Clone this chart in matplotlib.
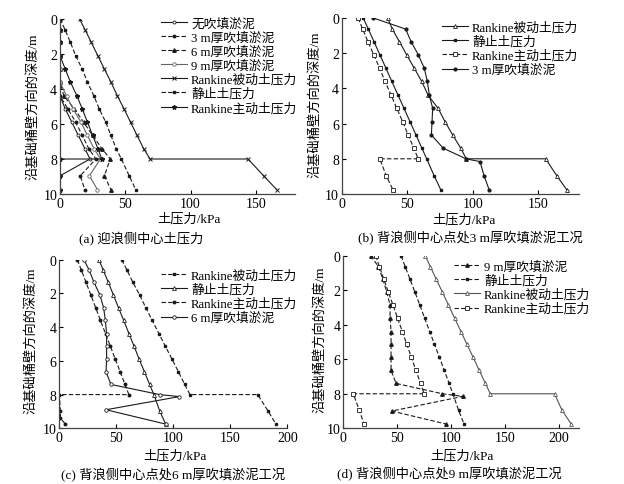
import matplotlib
matplotlib.use('Agg')
import matplotlib.pyplot as plt

plt.rcParams['font.family'] = ['Liberation Serif', 'Noto Sans CJK SC']
plt.rcParams['font.size'] = 9.5

# depths (m) of the sampling points
depth_up = [0, 0.63, 1.34, 2.1, 2.86, 3.6, 4.4, 5.13, 5.89, 6.65, 7.4, 8.0]
depth_low = [8.96, 9.75]
depth_layer = depth_up + [8.0, 8.96, 9.75]

# (a) 迎浪侧中心
a_none = [0, 0, 0, 0, 0, 0, 0, 4, 9, 14, 19, 23, 0, 0]
a_3m = [0, 0, 0, 0, 0, 0, 0, 6, 12, 17, 22, 27.5, 15.5, 19]
a_6m = [0, 0, 0, 0, 0, 0, 3, 11, 18, 25, 32, 38.5, 34, 39]
a_9m = [0, 0, 0, 0, 0, 0, 5, 10, 16, 21, 26, 31, 22.5, 28.7]
a_passive = [15, 19.3, 24, 29, 34, 39, 44, 49, 54, 59, 64, 69, 144, 156, 166]
a_static = [0, 4, 8, 12, 17, 21, 26, 30, 35, 39, 43, 47, 53, 58]
a_active = [0, 0, 0, 0, 4, 8, 13, 17, 21, 25, 29, 32, 0, 0, 0]

# (b) 背浪侧 3 m
b_passive = [35, 38.6, 44, 49.6, 55.4, 61, 66, 73.5, 78.8, 84.7, 90.8, 95, 155.6, 164, 171.6]
b_static = [16.5, 20.3, 24.6, 29.2, 33.8, 38.2, 43.1, 47.5, 52.1, 56.7, 61.2, 64.8, 70.5, 75.5]
b_active = [12.5, 16, 20, 24.5, 29, 33, 37.8, 42, 46.5, 50.7, 55, 58.4, 29, 34, 39]
b_fill = [24.2, 48.8, 52.9, 58.5, 63, 65.3, 66.9, 69.4, 68.9, 68.4, 77.5, 94.8, 105.5, 108.6, 112.4]
b_fill_depth = depth_up + [8.16, 8.96, 9.75]

# (c) 背浪侧 6 m
c_passive = [54.7, 59.5, 64.5, 70.5, 76, 81.5, 87.5, 93, 98.8, 104.5, 110, 114.6, 174, 183, 190]
c_static = [34.8, 38.6, 43, 47.5, 52, 56.5, 61.2, 65.6, 70, 74.7, 79.2, 83, 88, 93.3]
c_active = [15.8, 19.4, 23.4, 27.7, 32, 36.1, 40.6, 44.8, 49, 53.4, 57.6, 61, 0, 1, 1, 5.3]
c_active_depth = depth_up + [8.0, 9.0, 9.4, 9.75]
c_fill = [21.6, 26.3, 30.4, 35.7, 38.9, 40.4, 41.5, 41.5, 41.5, 41, 45.3, 88, 105.3, 41, 93.3]
c_fill_depth = depth_up + [8.12, 8.9, 9.75]

# (d) 背浪侧 9 m
d_fill = [25.4, 32.6, 36.6, 40.3, 43.4, 43.4, 44.3, 44.3, 44.3, 44.3, 49, 92, 111, 45, 95.2]
d_fill_depth = depth_up + [8.15, 9.0, 9.75]
d_static = [53.6, 57.4, 61.8, 66.4, 71, 75.4, 80.2, 84.6, 89.2, 93.8, 98.2, 101.7, 107, 112]
d_passive = [76, 80.8, 86, 91.9, 97.6, 103.2, 109.2, 114.7, 120.5, 126.2, 131.9, 136.4, 196, 203, 211.5]
d_active = [30, 33.5, 37.5, 41.8, 46.1, 50.3, 54.8, 58.9, 63.2, 67.4, 71.7, 75, 9.3, 14.9, 19.2]

W, H = 624, 485
fig = plt.figure(figsize=(W / 100, H / 100), dpi=100)

DASH = (0, (4, 2))
LW = 0.8
K = '#1a1a1a'


def make_axes(l, t, r, b, xmax, xticks):
    ax = fig.add_axes([l / W, 1 - b / H, (r - l) / W, (b - t) / H])
    ax.set_xlim(0, xmax)
    ax.set_ylim(10, 0)
    ax.set_xticks(xticks)
    ax.set_yticks([0, 2, 4, 6, 8, 10])
    for s in ['top', 'right']:
        ax.spines[s].set_visible(False)
    for s in ['left', 'bottom']:
        ax.spines[s].set_linewidth(0.9)
        ax.spines[s].set_color('#444444')
    ax.tick_params(direction='in', length=3, width=0.8, labelsize=10, pad=2)
    ax.patch.set_alpha(0)
    return ax


def legend(ax, x, y):
    ax.legend(loc='upper left', bbox_to_anchor=(x / W, 1 - y / H),
              bbox_transform=fig.transFigure, frameon=False, fontsize=9.2,
              handlelength=2.0, handletextpad=0.35, labelspacing=0.14,
              borderpad=0, borderaxespad=0)


def texts(xl_x, xl_y, cap_x, cap_y, cap, yl_x, yl_y):
    fig.text(xl_x / W, 1 - xl_y / H, '土压力/kPa', ha='center', va='center', fontsize=9.5)
    fig.text(cap_x / W, 1 - cap_y / H, cap, ha='center', va='center', fontsize=9.5)
    fig.text(yl_x / W, 1 - yl_y / H, '沿基础桶壁方向的深度/m', ha='center', va='center',
             rotation=90, fontsize=9.5)


# ---- (a)
ax = make_axes(60, 20, 295, 195, 180, [0, 50, 100, 150])
ax.plot(a_none, depth_up + depth_low, '-', color=K, lw=LW, marker='o', ms=2.2, mfc='white', mew=0.6, label='无吹填淤泥')
ax.plot(a_3m, depth_up + depth_low, ls=DASH, color=K, lw=LW, marker='o', ms=1.8, label='3 m厚吹填淤泥')
ax.plot(a_6m, depth_up + depth_low, ls=DASH, color=K, lw=LW, marker='^', ms=2.5, label='6 m厚吹填淤泥')
ax.plot(a_9m, depth_up + depth_low, '-', color='#666666', lw=LW, marker='o', ms=2.5, mfc='white', mew=0.6, label='9 m厚吹填淤泥')
ax.plot(a_passive, depth_layer, '-', color=K, lw=LW, marker='x', ms=2.8, mew=0.7, label='Rankine被动土压力')
ax.plot(a_static, depth_up + depth_low, ls=DASH, color=K, lw=LW, marker='s', ms=2, label='静止土压力')
ax.plot(a_active, depth_layer, '-', color=K, lw=LW, marker='*', ms=3.2, label='Rankine主动土压力')
legend(ax, 161, 18)
texts(189, 219, 141, 239, '(a) 迎浪侧中心土压力', 33, 107)

# ---- (b)
ax = make_axes(341.7, 19, 579, 195, 181, [0, 50, 100, 150])
ax.plot(b_passive, depth_layer, '-', color=K, lw=LW, marker='^', ms=2.8, mfc='white', mew=0.6, label='Rankine被动土压力')
ax.plot(b_static, depth_up + depth_low, '-', color=K, lw=LW, marker='s', ms=2, label='静止土压力')
ax.plot(b_active, depth_layer, ls=DASH, color=K, lw=LW, marker='s', ms=2.4, mfc='white', mew=0.6, label='Rankine主动土压力')
ax.plot(b_fill, b_fill_depth, '-', color=K, lw=LW, marker='o', ms=2, label='3 m厚吹填淤泥')
legend(ax, 442, 22)
texts(464, 220, 470, 238, '(b) 背浪侧中心点处3 m厚吹填淤泥工况', 315, 105)

# ---- (c)
ax = make_axes(59.3, 260.7, 287.3, 429.3, 200, [0, 50, 100, 150, 200])
ax.plot(c_passive, depth_layer, ls=DASH, color=K, lw=LW, marker='s', ms=1.8, label='Rankine被动土压力')
ax.plot(c_static, depth_up + depth_low, '-', color=K, lw=LW, marker='^', ms=2.8, mfc='white', mew=0.6, label='静止土压力')
ax.plot(c_active, c_active_depth, ls=DASH, color=K, lw=LW, marker='o', ms=1.8, label='Rankine主动土压力')
ax.plot(c_fill, c_fill_depth, '-', color=K, lw=LW, marker='o', ms=2.5, mfc='white', mew=0.6, label='6 m厚吹填淤泥')
legend(ax, 161, 270)
texts(175, 456, 173, 475, '(c) 背浪侧中心点处6 m厚吹填淤泥工况', 31, 341)

# ---- (d)
ax = make_axes(343.3, 256.7, 579.3, 429.3, 219, [0, 50, 100, 150, 200])
ax.plot(d_fill, d_fill_depth, ls=DASH, color=K, lw=LW, marker='^', ms=2.5, label='9 m厚吹填淤泥')
ax.plot(d_static, depth_up + depth_low, ls=DASH, color=K, lw=LW, marker='s', ms=2, label='静止土压力')
ax.plot(d_passive, depth_layer, '-', color='#555555', lw=LW, marker='^', ms=2.8, mfc='white', mew=0.6, label='Rankine被动土压力')
ax.plot(d_active, depth_layer, ls=DASH, color=K, lw=LW, marker='s', ms=2.4, mfc='white', mew=0.6, label='Rankine主动土压力')
legend(ax, 454, 261)
texts(462, 456, 449, 474, '(d) 背浪侧中心点处9 m厚吹填淤泥工况', 320, 340)

fig.savefig('out.png', dpi=100)
